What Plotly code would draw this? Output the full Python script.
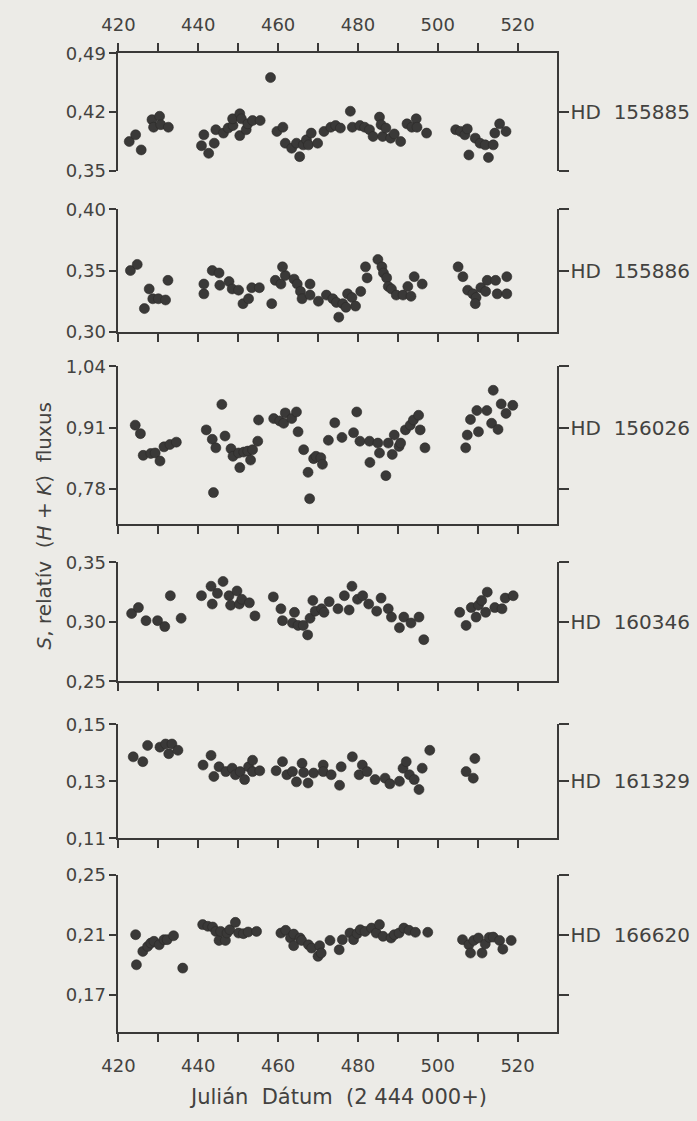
import plotly.graph_objects as go

# Julian Date axis (2 444 000+)
JD_TICKS = [420, 430, 440, 450, 460, 470, 480, 490, 500, 510, 520]
JD_LABELS = ["420", "", "440", "", "460", "", "480", "", "500", "", "520"]

STARS = ["HD 155885", "HD 155886", "HD 156026", "HD 160346", "HD 161329", "HD 166620"]

# ---- HD 155885 ----
hd155885_jd = [422.7, 424.3, 425.7, 428.4, 428.8, 430.3, 430.6, 432.5,
               440.8, 441.4, 442.6, 444.0, 444.4, 446.3, 447.5, 448.7, 448.6, 450.4, 450.4, 450.8,
               452.0, 452.4, 453.6, 455.5, 458.1,
               459.7, 461.2, 461.8, 463.4, 464.6, 465.4, 466.3, 467.1, 467.6, 468.3, 469.9, 471.5,
               473.2, 474.4, 475.6,
               478.1, 478.6, 480.5, 481.7, 482.9, 483.8, 485.4, 485.8, 486.2, 487.0, 488.2, 489.1, 490.7,
               492.3, 493.5, 494.6, 494.8, 497.2,
               504.5, 505.7, 506.8, 507.4, 507.8, 509.4, 510.6, 511.9, 512.7, 513.9, 514.3, 515.5, 517.1]
hd155885_s = [0.385, 0.393, 0.375, 0.411, 0.402, 0.415, 0.405, 0.402,
              0.380, 0.393, 0.371, 0.383, 0.399, 0.395, 0.401, 0.404, 0.412, 0.418, 0.392, 0.412,
              0.399, 0.406, 0.410, 0.410, 0.461,
              0.397, 0.402, 0.383, 0.377, 0.383, 0.367, 0.381, 0.387, 0.381, 0.395, 0.383, 0.397,
              0.402, 0.404, 0.401,
              0.421, 0.402, 0.404, 0.402, 0.399, 0.391, 0.414, 0.405, 0.391, 0.401, 0.389, 0.394, 0.385,
              0.406, 0.402, 0.412, 0.402, 0.395,
              0.399, 0.397, 0.393, 0.400, 0.369, 0.389, 0.383, 0.381, 0.366, 0.381, 0.395, 0.406, 0.397]

# ---- HD 155886 ----
hd155886_jd = [423.0, 424.7, 426.5, 427.7, 428.6, 430.0, 431.8, 432.4,
               441.4, 441.4, 443.5, 445.2, 445.4, 447.7, 448.5, 450.1, 451.2, 452.6, 453.4, 455.3,
               458.4, 459.3, 460.7, 461.8, 461.1,
               464.0, 464.8, 465.6, 466.0, 468.0, 468.0, 470.1, 472.1, 473.7, 474.6, 475.2, 476.2,
               477.0, 477.4, 478.5, 479.4, 480.7,
               481.9, 482.3, 485.0, 486.0, 486.4, 487.2, 487.6, 488.4, 489.6, 491.3, 492.5, 493.3,
               494.1, 496.1,
               505.1, 506.3, 507.5, 508.8, 509.6, 509.4, 510.8, 512.0, 512.4, 514.5, 514.9, 517.3, 517.3]
hd155886_s = [0.350, 0.355, 0.319, 0.335, 0.327, 0.327, 0.326, 0.342,
              0.339, 0.331, 0.350, 0.348, 0.338, 0.341, 0.335, 0.334, 0.323, 0.327, 0.336, 0.336,
              0.323, 0.342, 0.339, 0.346, 0.353,
              0.343, 0.339, 0.333, 0.327, 0.339, 0.330, 0.325, 0.330, 0.327, 0.324, 0.312, 0.323,
              0.320, 0.331, 0.328, 0.321, 0.333,
              0.353, 0.344, 0.359, 0.353, 0.348, 0.344, 0.337, 0.335, 0.330, 0.330, 0.337, 0.329,
              0.345, 0.339,
              0.353, 0.345, 0.334, 0.331, 0.328, 0.323, 0.336, 0.333, 0.342, 0.342, 0.331, 0.345, 0.331]

# ---- HD 156026 ----
hd156026_jd = [424.2, 425.5, 426.2, 428.1, 429.2, 430.4, 431.4, 432.9, 434.5,
               442.0, 443.8, 443.5, 444.4, 445.9, 446.7, 448.2, 448.7, 450.1, 450.4, 451.4, 452.4,
               453.1, 453.6, 454.9, 455.1,
               458.9, 460.4, 461.4, 461.8, 463.4, 464.6, 465.0, 466.4, 467.5, 467.9, 468.9, 469.5,
               470.7, 471.1, 472.6, 474.2, 476.0,
               478.9, 479.7, 480.5, 482.9, 483.0, 485.0, 485.4, 487.0, 487.6, 488.6, 489.1, 490.3,
               490.7, 491.9, 493.1, 493.9, 495.2, 495.6, 496.8,
               507.0, 507.4, 508.2, 509.8, 510.2, 512.3, 513.5, 513.9, 515.1, 515.9, 517.1, 518.8]
hd156026_s = [0.915, 0.897, 0.851, 0.855, 0.856, 0.839, 0.869, 0.874, 0.879,
              0.905, 0.772, 0.885, 0.867, 0.959, 0.892, 0.865, 0.849, 0.856, 0.825, 0.858, 0.860,
              0.841, 0.863, 0.881, 0.926,
              0.929, 0.924, 0.919, 0.941, 0.929, 0.943, 0.901, 0.863, 0.815, 0.759, 0.844, 0.849,
              0.846, 0.832, 0.883, 0.920, 0.889,
              0.899, 0.943, 0.881, 0.881, 0.836, 0.877, 0.856, 0.808, 0.877, 0.853, 0.894, 0.870,
              0.877, 0.905, 0.915, 0.926, 0.936, 0.905, 0.867,
              0.867, 0.894, 0.927, 0.946, 0.901, 0.946, 0.919, 0.989, 0.906, 0.960, 0.940, 0.957]

# ---- HD 160346 ----
hd160346_jd = [423.3, 425.0, 426.9, 429.8, 431.6, 433.0, 435.7,
               440.8, 443.2, 443.5, 444.8, 446.2, 447.7, 448.1, 449.7, 450.3, 450.9, 452.8, 454.2,
               458.8, 460.7, 461.1, 463.6, 464.1, 465.0, 466.3, 467.4, 468.0, 468.7, 469.3, 470.9,
               471.5, 472.8, 475.0, 476.6, 477.8, 478.5, 479.9, 481.2, 482.7, 484.7, 485.8, 487.6,
               488.4, 490.4, 491.5, 493.3, 495.3, 496.5,
               505.5, 507.1, 508.4, 509.6, 510.2, 511.0, 512.0, 512.4, 514.3, 516.1, 516.9, 518.9]
hd160346_s = [0.307, 0.312, 0.301, 0.301, 0.296, 0.322, 0.303,
              0.322, 0.330, 0.315, 0.324, 0.334, 0.322, 0.314, 0.326, 0.315, 0.319, 0.316, 0.305,
              0.321, 0.311, 0.301, 0.299, 0.308, 0.297, 0.297, 0.289, 0.303, 0.318, 0.309, 0.311,
              0.308, 0.317, 0.311, 0.322, 0.310, 0.330, 0.319, 0.322, 0.315, 0.309, 0.320, 0.311,
              0.304, 0.295, 0.304, 0.299, 0.304, 0.285,
              0.308, 0.297, 0.312, 0.304, 0.314, 0.318, 0.308, 0.325, 0.312, 0.311, 0.320, 0.322]

# ---- HD 161329 ----
hd161329_jd = [423.7, 426.1, 427.3, 430.4, 431.8, 432.6, 433.4, 434.9,
               441.2, 443.2, 443.9, 445.2, 446.9, 448.5, 449.3, 450.5, 451.6, 452.6, 453.6, 453.6, 455.4,
               459.5, 461.1, 462.2, 463.6, 464.6, 466.0, 466.4, 467.5, 468.9, 471.3, 471.3, 473.3,
               475.4, 475.8, 478.6, 480.3, 481.1, 482.3, 484.3, 486.8, 488.0, 490.4, 491.3, 492.1,
               492.9, 494.1, 495.3, 496.1, 498.0,
               507.1, 508.9, 509.3]
hd161329_s = [0.1386, 0.1369, 0.1426, 0.1420, 0.1431, 0.1397, 0.1431, 0.1409,
              0.1357, 0.1391, 0.1317, 0.1351, 0.1334, 0.1346, 0.1323, 0.1334, 0.1306, 0.1351, 0.1374, 0.1334, 0.1337,
              0.1337, 0.1369, 0.1323, 0.1334, 0.1298, 0.1363, 0.1331, 0.1294, 0.1329, 0.1357, 0.1334, 0.1323,
              0.1286, 0.1351, 0.1386, 0.1323, 0.1357, 0.1334, 0.1306, 0.1311, 0.1291, 0.1300, 0.1346, 0.1369,
              0.1323, 0.1306, 0.1271, 0.1346, 0.1409,
              0.1334, 0.1311, 0.1380]

# ---- HD 166620 ----
hd166620_jd = [424.3, 424.5, 426.1, 427.3, 428.1, 428.9, 430.2, 431.4, 432.2, 433.8, 436.1,
               441.1, 442.4, 443.6, 444.4, 445.2, 445.6, 446.8, 447.2, 447.9, 449.3, 450.1, 451.3,
               452.5, 454.6,
               460.7, 461.9, 463.1, 463.9, 463.9, 465.5, 465.9, 467.6, 468.4, 470.0, 470.4, 470.8,
               473.0, 475.3, 476.1, 478.0, 478.9, 479.8, 480.6, 481.8, 483.4, 484.6, 485.4, 486.3,
               488.3, 489.1, 490.3, 491.5, 492.8, 494.4, 497.5,
               506.2, 507.8, 508.2, 509.0, 510.2, 511.1, 511.9, 512.9, 513.9, 515.5, 516.3, 518.4]
hd166620_s = [0.2100, 0.1900, 0.1989, 0.2022, 0.2044, 0.2056, 0.2033, 0.2067, 0.2067, 0.2093, 0.1878,
              0.2167, 0.2156, 0.2151, 0.2122, 0.2062, 0.2122, 0.2062, 0.2111, 0.2133, 0.2182, 0.2111, 0.2107,
              0.2118, 0.2122,
              0.2111, 0.2129, 0.2078, 0.2104, 0.2027, 0.2078, 0.2062, 0.2033, 0.2011, 0.1956, 0.2027, 0.1978,
              0.2062, 0.2000, 0.2067, 0.2111, 0.2067, 0.2107, 0.2133, 0.2122, 0.2144, 0.2111, 0.2167, 0.2089,
              0.2078, 0.2100, 0.2111, 0.2144, 0.2129, 0.2116, 0.2116,
              0.2067, 0.2033, 0.1978, 0.2062, 0.2078, 0.1978, 0.2038, 0.2082, 0.2084, 0.2062, 0.2004, 0.2062]

# left-axis ticks for each star
LEFT_TICKS = [
    [0.35, 0.42, 0.49],
    [0.30, 0.35, 0.40],
    [0.78, 0.91, 1.04],
    [0.25, 0.30, 0.35],
    [0.11, 0.13, 0.15],
    [0.17, 0.21, 0.25],
]
LEFT_LABELS = [
    ["0,35", "0,42", "0,49"],
    ["0,30", "0,35", "0,40"],
    ["0,78", "0,91", "1,04"],
    ["0,25", "0,30", "0,35"],
    ["0,11", "0,13", "0,15"],
    ["0,17", "0,21", "0,25"],
]
# right-side bracket ticks and the tick that carries the star name
RIGHT_TICKS = [
    [0.35, 0.42],
    [0.35, 0.40],
    [0.78, 0.91, 1.04],
    [0.30, 0.35],
    [0.13, 0.15],
    [0.17, 0.21, 0.25],
]
NAME_TICK = [0.42, 0.35, 0.91, 0.30, 0.13, 0.21]
Y_RANGES = [
    [0.35, 0.49],
    [0.30, 0.40],
    [0.705, 1.04],
    [0.25, 0.35],
    [0.11, 0.15],
    [0.145, 0.25],
]

JD = [hd155885_jd, hd155886_jd, hd156026_jd, hd160346_jd, hd161329_jd, hd166620_jd]
SVAL = [hd155885_s, hd155886_s, hd156026_s, hd160346_s, hd161329_s, hd166620_s]

# ---- layout geometry (page is 697 x 1121 px) ----
W, H = 697, 1121
X_LEFT_PX, X_RIGHT_PX = 104, 554
PANEL_PX = [(43, 163), (202, 327), (362, 523), (562, 683), (727, 843), (880, 1041)]

INK = "#3a3938"
TEXT = "#434240"
PAPER = "#ecebe7"
FONT = "DejaVu Sans"
EPS = 1e-6


def py(px):
    return 1 - px / H


fig = go.Figure()
layout = dict(
    width=W, height=H,
    margin=dict(l=0, r=0, t=0, b=0),
    paper_bgcolor=PAPER, plot_bgcolor="rgba(0,0,0,0)",
    showlegend=False,
    font=dict(family=FONT, size=18, color=TEXT),
)

xdom = [X_LEFT_PX / W, X_RIGHT_PX / W]
for i in range(6):
    n = i + 1
    xa, ya, yr = f"x{n}", f"y{n}", f"y{n + 6}"
    top_px, bot_px = PANEL_PX[i]
    ydom = [py(bot_px), py(top_px)]
    lo, hi = Y_RANGES[i]

    fig.add_trace(go.Scatter(
        x=JD[i], y=SVAL[i], mode="markers",
        xaxis=xa, yaxis=ya,
        marker=dict(size=10, color=INK, line=dict(width=0.6, color="#2b2a29")),
        hoverinfo="skip",
    ))
    # empty trace so the right-hand bracket axis gets drawn
    fig.add_trace(go.Scatter(x=[None], y=[None], mode="markers",
                             xaxis=xa, yaxis=yr, hoverinfo="skip"))

    first, last = i == 0, i == 5
    layout[f"xaxis{n}"] = dict(
        domain=xdom, range=[420, 530], anchor=ya,
        side="top" if first else "bottom",
        showline=True, linewidth=2, linecolor=INK,
        ticks="outside", ticklen=8, tickwidth=2, tickcolor=INK,
        tickvals=JD_TICKS,
        ticktext=JD_LABELS if (first or last) else [""] * len(JD_TICKS),
        tickfont=dict(size=18, color=TEXT),
        ticklabelstandoff=5 if first else 8,
        showgrid=False, zeroline=False, fixedrange=True,
    )
    layout[f"yaxis{n}"] = dict(
        domain=ydom, range=[lo - EPS, hi + EPS], anchor=xa,
        showline=True, linewidth=2, linecolor=INK,
        ticks="outside", ticklen=7, tickwidth=2, tickcolor=INK,
        tickvals=LEFT_TICKS[i], ticktext=LEFT_LABELS[i],
        tickfont=dict(size=18, color=TEXT),
        showgrid=False, zeroline=False, fixedrange=True,
    )
    rt = RIGHT_TICKS[i]
    name = STARS[i].replace(" ", "\u00a0\u00a0")
    layout[f"yaxis{n + 6}"] = dict(
        domain=ydom, range=[lo - EPS, hi + EPS], anchor=xa,
        overlaying=ya, side="right",
        showline=True, linewidth=2, linecolor=INK,
        ticks="outside", ticklen=10, tickwidth=2, tickcolor=INK,
        tickvals=rt, ticktext=[name if v == NAME_TICK[i] else "" for v in rt],
        tickfont=dict(size=20, color=TEXT),
        ticklabelstandoff=-3,
        showgrid=False, zeroline=False, fixedrange=True,
    )

# axis titles
layout["annotations"] = [
    dict(text="Julián\u00a0\u00a0Dátum\u00a0\u00a0(2 444 000+)",
         x=(X_LEFT_PX + X_RIGHT_PX) / 2 / W, y=py(1107),
         xref="paper", yref="paper", showarrow=False,
         xanchor="center", yanchor="middle",
         font=dict(size=21, color=TEXT, family=FONT)),
    dict(text="<i>S</i>, relatív\u00a0\u00a0(<i>H</i> + <i>K</i>)\u00a0\u00a0fluxus",
         x=28 / W, y=py(525),
         xref="paper", yref="paper", showarrow=False, textangle=-90,
         xanchor="center", yanchor="middle",
         font=dict(size=20, color=TEXT, family=FONT)),
]

fig.update_layout(**layout)
fig.write_html("out.html")
